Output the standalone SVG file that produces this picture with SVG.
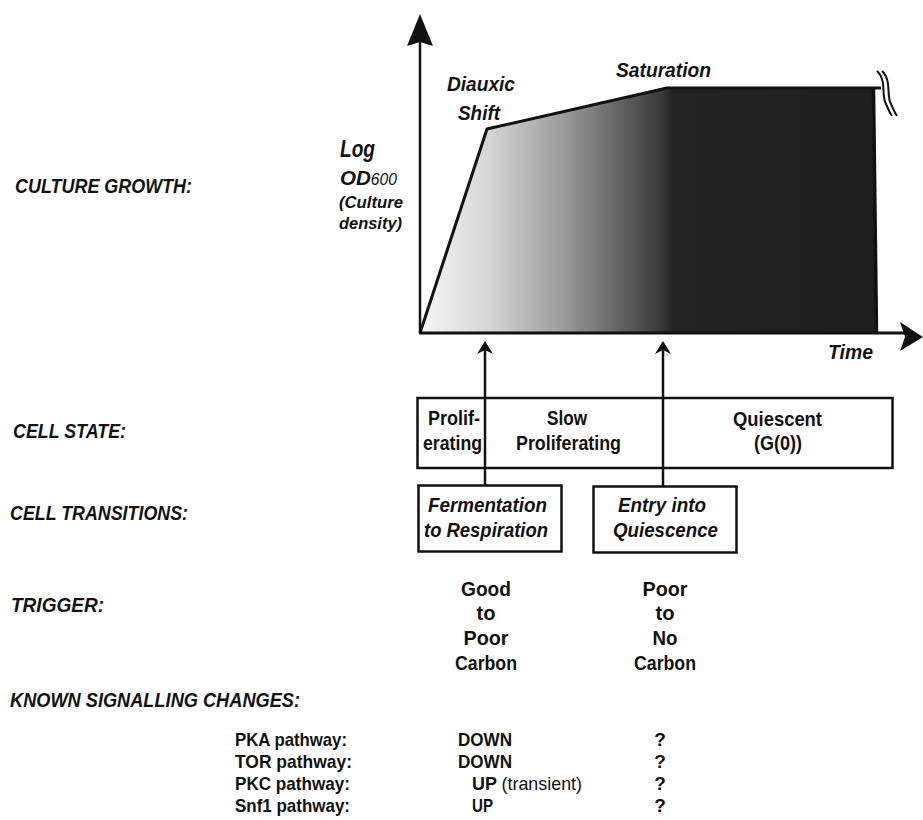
<svg xmlns="http://www.w3.org/2000/svg" width="923" height="820" viewBox="0 0 923 820">
<style>
text{font-family:"Liberation Sans Narrow","Liberation Sans",Arial,sans-serif;fill:#111;font-weight:bold}
.it{font-style:italic}
.s19{font-size:19px}
.s20{font-size:20px}
.s21{font-size:21px}
.s17{font-size:17px}
.line{stroke:#111;fill:none}
</style>
<defs>
<linearGradient id="g" gradientUnits="userSpaceOnUse" x1="420" y1="0" x2="872" y2="0">
<stop offset="0" stop-color="#f6f6f6"/>
<stop offset="0.15" stop-color="#d6d6d6"/>
<stop offset="0.31" stop-color="#9e9e9e"/>
<stop offset="0.44" stop-color="#646464"/>
<stop offset="0.535" stop-color="#383838"/>
<stop offset="0.56" stop-color="#232323"/>
<stop offset="1" stop-color="#1f1f1f"/>
</linearGradient>
</defs>
<rect width="923" height="820" fill="#fff"/>

<g id="row-labels">
<text class="it s20" x="15" y="193" textLength="177" lengthAdjust="spacingAndGlyphs">CULTURE GROWTH:</text>
<text class="it s20" x="13" y="438" textLength="113" lengthAdjust="spacingAndGlyphs">CELL STATE:</text>
<text class="it s20" x="10" y="520" textLength="178" lengthAdjust="spacingAndGlyphs">CELL TRANSITIONS:</text>
<text class="it s20" x="11" y="612" textLength="93" lengthAdjust="spacingAndGlyphs">TRIGGER:</text>
<text class="it s20" x="10" y="707" textLength="290" lengthAdjust="spacingAndGlyphs">KNOWN SIGNALLING CHANGES:</text>
</g>

<g id="growth-chart">
<polygon points="420,333 487,129 667,88 872,88 877,333" fill="url(#g)"/>
<polyline class="line" stroke-width="3" stroke-linejoin="round" points="420,333 487,129 667,88 881,88"/>
<line class="line" x1="873.5" y1="89" x2="876.5" y2="333" stroke-width="3.5" stroke="#080808"/>
<line class="line" x1="420" y1="333" x2="420" y2="40" stroke-width="2.5"/>
<polygon points="420,14 433,46 420,42 407,46" fill="#111"/>
<line class="line" x1="419" y1="333" x2="906" y2="333" stroke-width="3"/>
<polygon points="923,337 900,351 905,337 900,322" fill="#111"/>
<path class="line" stroke-width="2" d="M877,71 C887,80 881,96 886,104 C888,108 889,112 892,116"/>
<path class="line" stroke-width="2" d="M882,71 C892,80 886,96 891,104 C893,108 894,112 897,116"/>
<text class="it s21" x="447" y="91" textLength="68" lengthAdjust="spacingAndGlyphs">Diauxic</text>
<text class="it s21" x="458" y="120" textLength="42" lengthAdjust="spacingAndGlyphs">Shift</text>
<text class="it s21" x="616" y="77" textLength="95" lengthAdjust="spacingAndGlyphs">Saturation</text>
<text class="it" x="340" y="157" font-size="23" textLength="35" lengthAdjust="spacingAndGlyphs">Log</text>
<text class="it" x="340" y="185" font-size="21" textLength="57" lengthAdjust="spacingAndGlyphs">OD<tspan font-size="16" font-weight="normal">600</tspan></text>
<text class="it s17" x="339" y="208" textLength="64" lengthAdjust="spacingAndGlyphs">(Culture</text>
<text class="it s17" x="339" y="229" textLength="63" lengthAdjust="spacingAndGlyphs">density)</text>
<text class="it s20" x="828" y="359" textLength="45" lengthAdjust="spacingAndGlyphs">Time</text>
</g>

<g id="cell-state">
<rect x="417.5" y="398" width="475" height="70" fill="none" stroke="#111" stroke-width="2.5"/>
<text class="s20" x="428" y="425" textLength="52" lengthAdjust="spacingAndGlyphs">Prolif-</text>
<text class="s20" x="423" y="450" textLength="59" lengthAdjust="spacingAndGlyphs">erating</text>
<text class="s20" x="547" y="425" textLength="40" lengthAdjust="spacingAndGlyphs">Slow</text>
<text class="s20" x="516" y="450" textLength="105" lengthAdjust="spacingAndGlyphs">Proliferating</text>
<text class="s20" x="733" y="426" textLength="89" lengthAdjust="spacingAndGlyphs">Quiescent</text>
<text class="s20" x="754" y="450" textLength="48" lengthAdjust="spacingAndGlyphs">(G(0))</text>
</g>

<g id="transition-fermentation">
<rect x="418.5" y="485.5" width="143" height="66" fill="none" stroke="#111" stroke-width="2.5"/>
<text class="it s20" x="428" y="512" textLength="119" lengthAdjust="spacingAndGlyphs">Fermentation</text>
<text class="it s20" x="424" y="537" textLength="124" lengthAdjust="spacingAndGlyphs">to Respiration</text>
</g>

<g id="transition-quiescence">
<rect x="593.5" y="486.5" width="143" height="66" fill="none" stroke="#111" stroke-width="2.5"/>
<text class="it s20" x="618" y="512" textLength="88" lengthAdjust="spacingAndGlyphs">Entry into</text>
<text class="it s20" x="613" y="537" textLength="105" lengthAdjust="spacingAndGlyphs">Quiescence</text>
</g>

<g id="connectors">
<line class="line" x1="485" y1="485" x2="485" y2="350" stroke-width="2.5"/>
<polygon points="485,341 493,354 485,350 477,354" fill="#111"/>
<line class="line" x1="663" y1="486" x2="663" y2="350" stroke-width="2.5"/>
<polygon points="663,341 671,354 663,350 655,354" fill="#111"/>
</g>

<g id="trigger-1" text-anchor="middle">
<text class="s21" x="486" y="596" textLength="50" lengthAdjust="spacingAndGlyphs">Good</text>
<text class="s21" x="486" y="620" textLength="19" lengthAdjust="spacingAndGlyphs">to</text>
<text class="s21" x="486" y="645" textLength="45" lengthAdjust="spacingAndGlyphs">Poor</text>
<text class="s21" x="486" y="670" textLength="62" lengthAdjust="spacingAndGlyphs">Carbon</text>
</g>
<g id="trigger-2" text-anchor="middle">
<text class="s21" x="665" y="596" textLength="45" lengthAdjust="spacingAndGlyphs">Poor</text>
<text class="s21" x="665" y="620" textLength="19" lengthAdjust="spacingAndGlyphs">to</text>
<text class="s21" x="665" y="645" textLength="25" lengthAdjust="spacingAndGlyphs">No</text>
<text class="s21" x="665" y="670" textLength="62" lengthAdjust="spacingAndGlyphs">Carbon</text>
</g>

<g id="signalling">
<text class="s19" x="235" y="746" textLength="112" lengthAdjust="spacingAndGlyphs">PKA pathway:</text>
<text class="s19" x="235" y="768" textLength="117" lengthAdjust="spacingAndGlyphs">TOR pathway:</text>
<text class="s19" x="235" y="790" textLength="115" lengthAdjust="spacingAndGlyphs">PKC pathway:</text>
<text class="s19" x="235" y="812" textLength="115" lengthAdjust="spacingAndGlyphs">Snf1 pathway:</text>
<text class="s19" x="458" y="746" textLength="54" lengthAdjust="spacingAndGlyphs">DOWN</text>
<text class="s19" x="458" y="768" textLength="54" lengthAdjust="spacingAndGlyphs">DOWN</text>
<text class="s19" x="472" y="790" textLength="110" lengthAdjust="spacingAndGlyphs">UP <tspan font-weight="normal">(transient)</tspan></text>
<text class="s19" x="472" y="812" textLength="21" lengthAdjust="spacingAndGlyphs">UP</text>
<text class="s19" x="660" y="746" text-anchor="middle">?</text>
<text class="s19" x="660" y="768" text-anchor="middle">?</text>
<text class="s19" x="660" y="790" text-anchor="middle">?</text>
<text class="s19" x="660" y="812" text-anchor="middle">?</text>
</g>
</svg>
